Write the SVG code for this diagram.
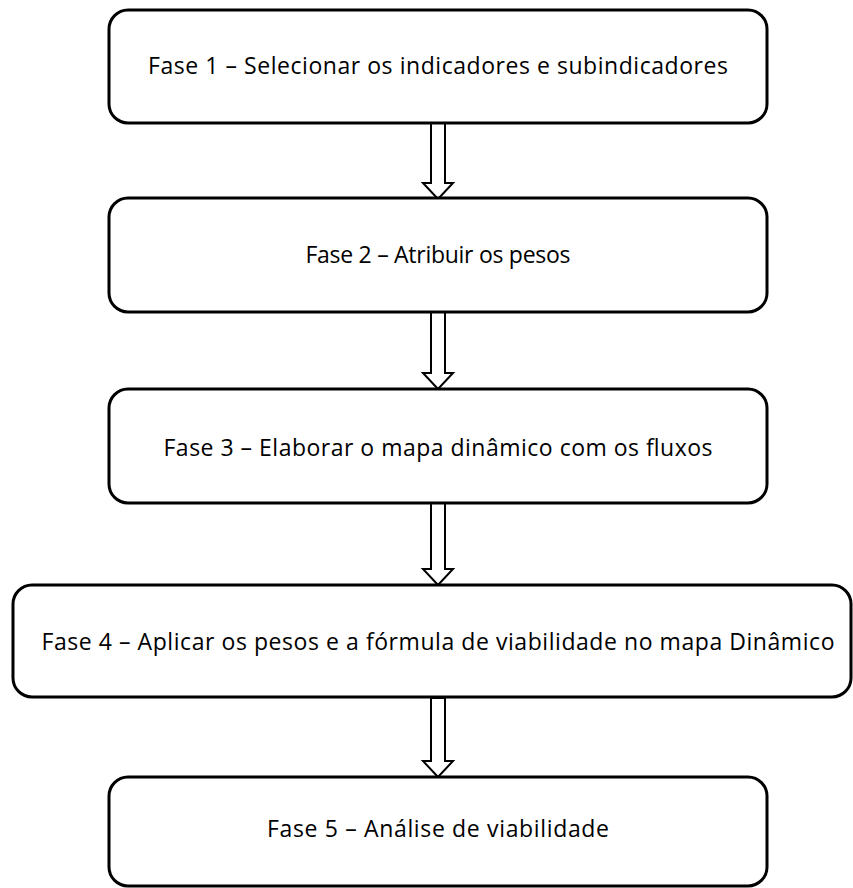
<svg xmlns="http://www.w3.org/2000/svg" width="853" height="888" viewBox="0 0 853 888">
<style>
.box{fill:#fff;stroke:#000;stroke-width:3}
.lbl{font-family:"Open Sans","Liberation Sans",sans-serif;font-size:23px;fill:#000;text-anchor:middle}
.arr{fill:#fff;stroke:#000;stroke-width:2;stroke-linejoin:miter}
</style>
<rect width="853" height="888" fill="#fff"/>
<g id="connectors">
<path class="arr" d="M431,123 H445 V183 H453 L438,199 L423,183 H431 Z"/>
<path class="arr" d="M431,312 H445 V373 H453 L438,389 L423,373 H431 Z"/>
<path class="arr" d="M431,503 H445 V569 H453 L438,585 L423,569 H431 Z"/>
<path class="arr" d="M431,698 H445 V761 H453 L438,777 L423,761 H431 Z"/>
</g>
<g id="fase1">
<rect class="box" x="109" y="10" width="658" height="113" rx="19"/>
<text class="lbl" x="438" y="74" textLength="580" lengthAdjust="spacing">Fase 1 – Selecionar os indicadores e subindicadores</text>
</g>
<g id="fase2">
<rect class="box" x="109" y="198" width="658" height="114" rx="19"/>
<text class="lbl" x="438" y="263" textLength="265" lengthAdjust="spacing">Fase 2 – Atribuir os pesos</text>
</g>
<g id="fase3">
<rect class="box" x="109" y="389" width="658" height="114" rx="19"/>
<text class="lbl" x="438" y="456" textLength="549" lengthAdjust="spacing">Fase 3 – Elaborar o mapa dinâmico com os fluxos</text>
</g>
<g id="fase4">
<rect class="box" x="13" y="585" width="838" height="112" rx="19"/>
<text class="lbl" x="438" y="650" textLength="793" lengthAdjust="spacing">Fase 4 – Aplicar os pesos e a fórmula de viabilidade no mapa Dinâmico</text>
</g>
<g id="fase5">
<rect class="box" x="109" y="777" width="658" height="109" rx="19"/>
<text class="lbl" x="438" y="837" textLength="342" lengthAdjust="spacing">Fase 5 – Análise de viabilidade</text>
</g>
</svg>
